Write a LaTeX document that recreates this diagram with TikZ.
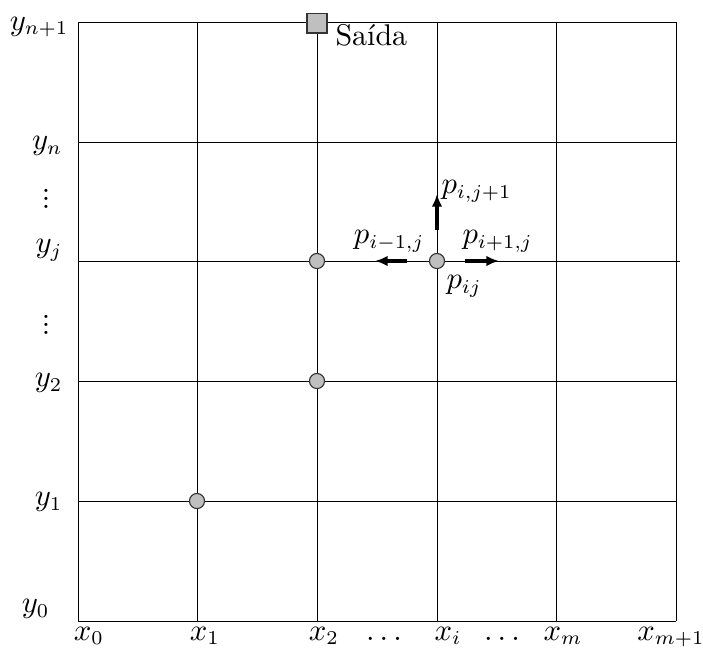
\documentclass[tikz,border=0pt]{standalone}
\usetikzlibrary{arrows.meta}
\newcommand{\smallvdots}{\vbox{\baselineskip=2.9pt\lineskiplimit=0pt\hbox{.}\hbox{.}\hbox{.}}}
\begin{document}
\begin{tikzpicture}[x=0.357pt,y=-0.357pt,
  every node/.style={font=\fontsize{10.7}{13}\selectfont},
  gridline/.style={line width=0.35pt,black},
  pt/.style={circle,draw=black!80,fill=black!25,line width=0.4pt,inner sep=0pt,minimum size=5.4pt},
  exitbox/.style={rectangle,draw=black!80,fill=black!25,line width=0.4pt,inner sep=0pt,minimum size=7.1pt},
  move/.style={line width=1.1pt,-{Latex[length=4.5pt,width=3.8pt]}},
  lbl/.style={inner sep=0pt},
  dotslbl/.style={inner sep=0pt}]
\useasboundingbox (0,0) rectangle (703,651);
% grid
\foreach \x in {78,197,317,437,556,676} \draw[gridline] (\x,22) -- (\x,621);
\foreach \y in {22,142,381,501,621} \draw[gridline] (78,\y) -- (676,\y);
\draw[gridline] (78,261) -- (680,261);
% points
\node[pt] (pij) at (437,261) {};
\node[pt] (p2j) at (317,261) {};
\node[pt] (p22) at (317,381) {};
\node[pt] (p11) at (197,501) {};
\node[exitbox] (exit) at (317,23) {};
\node[lbl,anchor=base west] (saida) at (335,45) {Saída};
% arrows
\coordinate (up0) at (437,230);
\coordinate (up1) at (437,194);
\coordinate (lf0) at (407,261);
\coordinate (lf1) at (375,261);
\coordinate (rt0) at (465,261);
\coordinate (rt1) at (499,261);
\draw[move] (up0) -- (up1);
\draw[move] (lf0) -- (lf1);
\draw[move] (rt0) -- (rt1);
\node[lbl,anchor=west] (lup) at (441,191) {$p_{i,j+1}$};
\node[lbl,anchor=east] (llf) at (425,241) {$p_{i-1,j}$};
\node[lbl,anchor=west] (lrt) at (462,241) {$p_{i+1,j}$};
\node[lbl,anchor=west] (lij) at (446,286) {$p_{ij}$};
% y labels
\node[lbl,anchor=east] (yn1) at (69,27) {$y_{n+1}$};
\node[lbl,anchor=east] (yn) at (63,146) {$y_{n}$};
\node[dotslbl] (vd1) at (46,199) {\smallvdots};
\node[lbl,anchor=east] (yj) at (63,250) {$y_{j}$};
\node[dotslbl] (vd2) at (46,325) {\smallvdots};
\node[lbl,anchor=east] (y2) at (63,383) {$y_{2}$};
\node[lbl,anchor=east] (y1) at (63,502) {$y_{1}$};
\node[lbl,anchor=east] (y0) at (50,609) {$y_{0}$};
% x labels
\node[lbl,anchor=base] (x0) at (89,640) {$x_{0}$};
\node[lbl,anchor=base] (x1) at (205,640) {$x_{1}$};
\node[lbl,anchor=base] (x2) at (324,640) {$x_{2}$};
\node[lbl,anchor=base] (d1) at (384,640) {$\dots$};
\node[lbl,anchor=base] (xi) at (448,640) {$x_{i}$};
\node[lbl,anchor=base] (d2) at (502,640) {$\dots$};
\node[lbl,anchor=base] (xm) at (563,640) {$x_{m}$};
\node[lbl,anchor=base] (xm1) at (671,640) {$x_{m+1}$};
\end{tikzpicture}
\end{document}
